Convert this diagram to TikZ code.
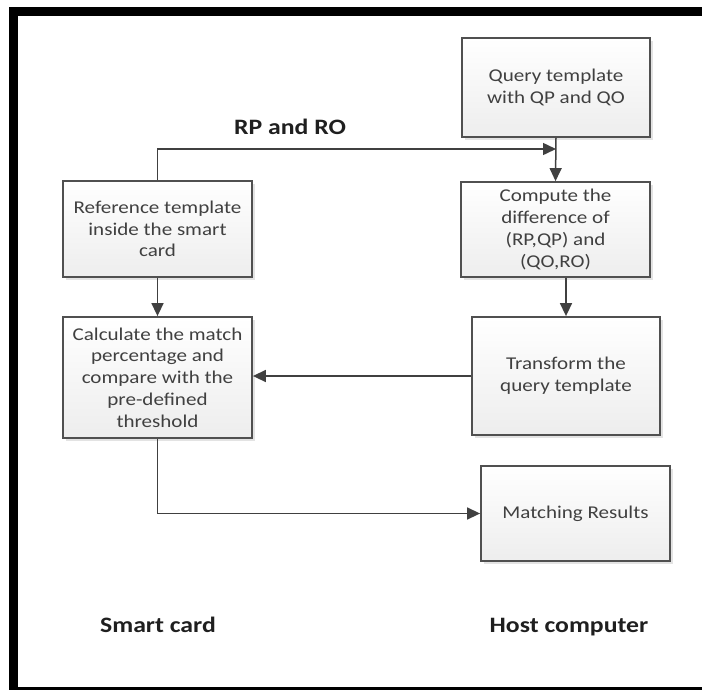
\documentclass[tikz,border=0pt]{standalone}
\usepackage{fontspec}
\setmainfont{Carlito}[FakeStretch=1.17]
\usetikzlibrary{arrows.meta,shadows}
\definecolor{edge}{HTML}{505050}
\definecolor{txt}{HTML}{404040}
\definecolor{lnk}{HTML}{404040}
\tikzset{
  stepbox/.style={draw=edge, line width=1.8pt, top color=white, bottom color=black!7,
    drop shadow={shadow xshift=2.5pt, shadow yshift=-2.5pt, fill=black!18, opacity=0.6},
    align=center, text=txt, inner sep=0pt,
    font=\fontsize{18}{21.7}\selectfont},
  link/.style={draw=lnk, line width=1.5pt, -{Triangle[length=13pt,width=12pt]}},
  plain/.style={draw=lnk, line width=1.5pt},
  biglabel/.style={font=\fontsize{22}{26}\selectfont\bfseries, text=black!88, inner sep=0pt}
}
\begin{document}
\begin{tikzpicture}[x=1pt,y=-1pt]
\useasboundingbox (0,0) rectangle (702,689);
\begin{scope}
\clip (0,0) rectangle (702,689);
\draw[line width=9pt, black] (720,11) -- (13,11) -- (13,691) -- (720,691);
\end{scope}

\node[stepbox, minimum width=188pt, minimum height=99pt] (q) at (556,87.5) {Query template\\with QP and QO};
\node[stepbox, minimum width=189pt, minimum height=96pt] (ref) at (157.5,229) {Reference template\\inside the smart\\card};
\node[stepbox, minimum width=189pt, minimum height=95pt] (comp) at (555.5,229.5) {Compute the\\difference of\\(RP,QP) and\\(QO,RO)};
\node[stepbox, minimum width=189pt, minimum height=121pt] (calc) at (157.5,377.5) {Calculate the match\\percentage and\\compare with the\\pre-defined\\threshold};
\node[stepbox, minimum width=188pt, minimum height=118pt] (trans) at (566,376) {Transform the\\query template};
\node[stepbox, minimum width=189pt, minimum height=95pt] (match) at (575.5,513.5) {Matching Results};

\node[biglabel] (rp) at (290,127) {RP and RO};
\node[biglabel] (sc) at (158,625) {Smart card};
\node[biglabel] (hc) at (569,627) {Host computer};

\coordinate (j) at (q.south |- 0,149);
\draw[link] (q.south) -- (comp.north);
\draw[link] (ref.north) |- (j);
\draw[link] (ref.south) -- (calc.north);
\draw[link] (trans.north |- comp.south) -- (trans.north);
\draw[link] (trans.west) -- (calc.east |- trans.west);
\draw[link] (calc.south) |- (match.west);
\end{tikzpicture}
\end{document}
